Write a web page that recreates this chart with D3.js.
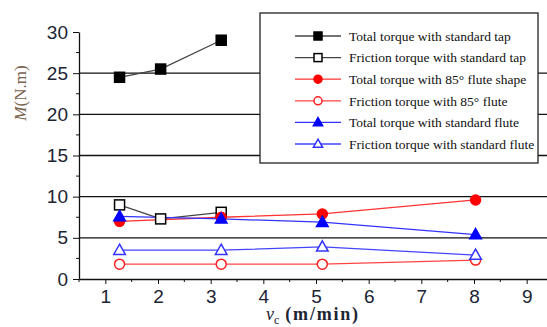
<!DOCTYPE html>
<html>
<head>
<meta charset="utf-8">
<script src="https://cdn.jsdelivr.net/npm/d3@7"></script>
<style>
  body { margin: 0; background: #fff; }
  svg { display: block; }
</style>
</head>
<body>
<div id="chart"></div>
<script>
// data
const totalStdTap = [[1.27, 24.5], [2.05, 25.5], [3.2, 29.0]];
const frictionStdTap = [[1.27, 9.0], [2.05, 7.3], [3.2, 8.1]];
const total85 = [[1.27, 7.0], [3.2, 7.5], [5.12, 7.9], [8.03, 9.6]];
const friction85 = [[1.27, 1.8], [3.2, 1.8], [5.12, 1.8], [8.03, 2.3]];
const totalStdFlute = [[1.27, 7.6], [3.2, 7.3], [5.12, 6.9], [8.03, 5.4]];
const frictionStdFlute = [[1.27, 3.5], [3.2, 3.5], [5.12, 3.9], [8.03, 2.9]];
const legendLabels = [
  "Total torque with standard tap",
  "Friction torque with standard tap",
  "Total torque with 85\u00b0 flute shape",
  "Friction torque with 85\u00b0 flute",
  "Total torque with standard flute",
  "Friction torque with standard flute"
];
const xTicks = [1, 2, 3, 4, 5, 6, 7, 8, 9];
const yTicks = [0, 5, 10, 15, 20, 25, 30];
const gridValues = [5, 10, 15, 20, 25];

const W = 547, H = 327;
const series = [
  { data: totalStdTap, color: "#000", line: "#444", shape: "square", fill: true },
  { data: frictionStdTap, color: "#000", line: "#444", shape: "square", fill: false },
  { data: total85, color: "#f00", line: "#f33", shape: "circle", fill: true },
  { data: friction85, color: "#f22", line: "#f44", shape: "circle", fill: false },
  { data: totalStdFlute, color: "#00f", line: "#33f", shape: "triangle", fill: true },
  { data: frictionStdFlute, color: "#33f", line: "#44f", shape: "triangle", fill: false }
];

const svg = d3.select("#chart").append("svg")
  .attr("width", W)
  .attr("height", H);

const x = d3.scaleLinear().domain([0.5, 9.5]).range([79, 553]);
const y = d3.scaleLinear().domain([0, 30]).range([279, 32]);

// gridlines
svg.append("g")
  .selectAll("line")
  .data(gridValues)
  .join("line")
  .attr("x1", 79)
  .attr("x2", W)
  .attr("y1", d => y(d))
  .attr("y2", d => y(d))
  .attr("stroke", "#111")
  .attr("stroke-width", 1.3);

// minor ticks
const xMinor = d3.range(0.5, 9.6, 0.5).filter(v => !Number.isInteger(v));
const yMinor = d3.range(2.5, 30, 5);

const xAxis = svg.append("g")
  .attr("transform", `translate(0,${y(0)})`)
  .call(d3.axisBottom(x).tickValues(xTicks).tickSize(5).tickSizeOuter(0).tickFormat(d3.format("d")));
xAxis.append("g")
  .selectAll("line")
  .data(xMinor)
  .join("line")
  .attr("x1", d => x(d)).attr("x2", d => x(d))
  .attr("y1", 0).attr("y2", 3)
  .attr("stroke", "#111");

const yAxis = svg.append("g")
  .attr("transform", `translate(${x(0.5)},0)`)
  .call(d3.axisLeft(y).tickValues(yTicks).tickSize(6).tickSizeOuter(0).tickFormat(d3.format("d")));
yAxis.append("g")
  .selectAll("line")
  .data(yMinor)
  .join("line")
  .attr("x1", -3).attr("x2", 0)
  .attr("y1", d => y(d)).attr("y2", d => y(d))
  .attr("stroke", "#111");

svg.selectAll(".domain").attr("stroke", "#111").attr("stroke-width", 1.3);
svg.selectAll(".tick line").attr("stroke", "#111");
xAxis.selectAll(".tick text")
  .attr("font-family", "Liberation Sans, Arial, sans-serif")
  .attr("font-size", 19)
  .attr("fill", "#1c2433")
  .attr("dy", "0.85em");
yAxis.selectAll(".tick text")
  .attr("font-family", "Liberation Sans, Arial, sans-serif")
  .attr("font-size", 19)
  .attr("fill", "#1c2433")
  .attr("x", -11);

// markers
function drawMarker(g, s, cx, cy, size) {
  const fill = s.fill ? s.color : "#fff";
  if (s.shape === "square") {
    g.append("rect")
      .attr("x", cx - size / 2).attr("y", cy - size / 2)
      .attr("width", size).attr("height", size)
      .attr("fill", fill).attr("stroke", s.color).attr("stroke-width", 1.5);
  } else if (s.shape === "circle") {
    g.append("circle")
      .attr("cx", cx).attr("cy", cy).attr("r", size / 2)
      .attr("fill", fill).attr("stroke", s.color).attr("stroke-width", 1.5);
  } else {
    const h = size;
    g.append("path")
      .attr("d", `M${cx},${cy - h * 0.6}L${cx + h * 0.58},${cy + h * 0.42}L${cx - h * 0.58},${cy + h * 0.42}Z`)
      .attr("fill", fill).attr("stroke", s.color).attr("stroke-width", 1.5);
  }
}

const line = d3.line().x(d => x(d[0])).y(d => y(d[1]));
const plot = svg.append("g");
series.forEach(s => {
  plot.append("path")
    .attr("d", line(s.data))
    .attr("fill", "none")
    .attr("stroke", s.line)
    .attr("stroke-width", 1.3);
});
series.forEach(s => {
  s.data.forEach(d => drawMarker(plot, s, x(d[0]), y(d[1]), 10));
});

// legend
const lg = svg.append("g");
lg.append("rect")
  .attr("x", 260).attr("y", 13)
  .attr("width", 278).attr("height", 150)
  .attr("fill", "#fff")
  .attr("stroke", "#222")
  .attr("stroke-width", 1.3);
const rowY = d3.scalePoint().domain(d3.range(6)).range([36, 144]);
series.forEach((s, i) => {
  const yy = rowY(i);
  lg.append("line")
    .attr("x1", 295).attr("x2", 341)
    .attr("y1", yy).attr("y2", yy)
    .attr("stroke", s.line).attr("stroke-width", 1.3);
  drawMarker(lg, s, 318, yy, 8);
  lg.append("text")
    .attr("x", 349).attr("y", yy)
    .attr("dy", "0.35em")
    .attr("font-family", "Liberation Serif, Times New Roman, serif")
    .attr("font-size", 13.5)
    .attr("fill", "#111")
    .text(legendLabels[i]);
});

// axis labels
const yl = svg.append("text")
  .attr("transform", "translate(26,93) rotate(-90)")
  .attr("text-anchor", "middle")
  .attr("font-family", "Liberation Serif, Times New Roman, serif")
  .attr("font-size", 17)
  .attr("fill", "#7a6450");
yl.append("tspan").attr("font-style", "italic").text("M");
yl.append("tspan").text("(N.m)");

const xl = svg.append("text")
  .attr("x", 266).attr("y", 320)
  .attr("font-family", "Liberation Serif, Times New Roman, serif")
  .attr("font-size", 18)
  .attr("fill", "#1c2433");
xl.append("tspan").attr("font-style", "italic").text("v");
xl.append("tspan").attr("font-size", 12).attr("dy", 4).text("c");
xl.append("tspan").attr("dy", -4).attr("dx", 6)
  .attr("font-weight", "bold").attr("letter-spacing", 1.8).text("(m/min)");
</script>
</body>
</html>
